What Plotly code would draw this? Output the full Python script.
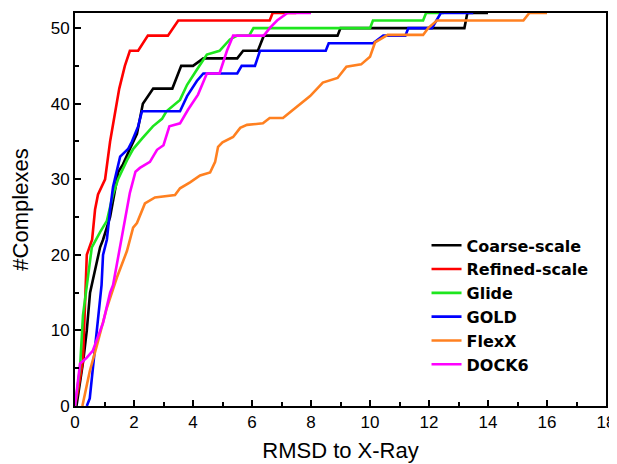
import plotly.graph_objects as go

# Coarse-scale
coarse_x = [0, 0.05, 0.28, 0.4, 0.51, 0.68, 0.85, 0.95, 1.19, 1.47, 1.63, 1.86, 2.1, 2.3, 2.65, 3.3, 3.6, 4.0, 4.35, 5.5, 5.7, 6.2, 6.4, 8.9, 9.0, 13.2, 13.3, 14.0]
coarse_y = [0, 0, 6, 10, 15, 18, 21, 22, 25, 31, 32, 34, 36, 40, 42, 42, 45, 45, 46, 46, 47, 47, 49, 49, 50, 50, 52, 52]
# Refined-scale
refined_x = [0, 0.1, 0.27, 0.4, 0.58, 0.68, 0.78, 1.02, 1.19, 1.36, 1.5, 1.69, 1.86, 2.14, 2.47, 3.15, 3.5, 6.6, 6.7, 7.5]
refined_y = [0, 2, 6, 20, 22, 26, 28, 30, 35, 39, 42, 45, 47, 47, 49, 49, 51, 51, 52, 52]
# Glide
glide_x = [0, 0.17, 0.27, 0.4, 0.57, 0.85, 1.08, 1.29, 1.46, 1.76, 1.97, 2.3, 2.64, 2.95, 3.1, 3.56, 3.8, 4.13, 4.47, 4.9, 5.25, 5.5, 5.9, 6.05, 10.0, 10.1, 11.8, 11.9, 12.5]
glide_y = [0, 5, 12, 16, 21, 23, 24.5, 28, 30, 32.5, 34, 35.5, 37, 38, 39, 40.5, 42.5, 44.5, 46.5, 47, 48.5, 49, 49, 50, 50, 51, 51, 52, 52]
# GOLD
gold_x = [0.4, 0.5, 0.62, 0.78, 0.9, 0.95, 1.08, 1.19, 1.29, 1.53, 1.8, 1.93, 2.14, 2.27, 2.54, 3.56, 3.8, 4.13, 4.35, 5.5, 5.65, 6.1, 6.27, 8.5, 8.6, 10.1, 10.45, 11.2, 11.3, 12.1, 12.4, 13.5]
gold_y = [0, 1, 5.5, 12, 16, 20, 22, 26, 29, 33, 34, 35, 37, 39, 39, 39, 41, 43, 44, 44, 45, 45, 47, 47, 48, 48, 49, 49, 50, 50, 52, 52]
# FlexX
flexx_x = [0.25, 0.5, 0.74, 1.08, 1.42, 1.76, 1.97, 2.1, 2.37, 2.71, 3.39, 3.56, 3.9, 4.24, 4.58, 4.75, 4.85, 5.0, 5.36, 5.6, 5.83, 6.37, 6.6, 7.05, 7.3, 7.6, 7.97, 8.4, 8.9, 9.2, 9.7, 10.0, 10.17, 10.6, 11.8, 11.97, 12.27, 15.2, 15.4, 16.0]
flexx_y = [0, 4.6, 8, 13, 17, 20.5, 23.6, 24.2, 26.8, 27.6, 27.9, 28.8, 29.6, 30.5, 30.9, 32.3, 34.3, 34.9, 35.6, 36.8, 37.2, 37.4, 38.1, 38.1, 38.9, 39.8, 41, 42.8, 43.4, 44.9, 45.2, 46.2, 48.1, 49.1, 49.1, 50, 51, 51, 52, 52]
# DOCK6
dock6_x = [0, 0.17, 0.4, 0.6, 0.95, 1.19, 1.29, 1.46, 1.63, 1.86, 2.05, 2.2, 2.54, 2.78, 3.0, 3.2, 3.56, 3.83, 4.17, 4.47, 4.9, 5.15, 5.36, 6.4, 6.6, 6.85, 7.2, 8.0]
dock6_y = [0, 5.6, 6.4, 7.3, 11, 15, 16, 19.7, 23.6, 28.2, 31, 31.5, 32.3, 33.9, 34.5, 37, 37.4, 39.2, 41.2, 44, 44, 47, 49, 49, 50, 51, 52, 52]

series = [
    ("Coarse-scale", coarse_x, coarse_y, "#000000"),
    ("Refined-scale", refined_x, refined_y, "#ff0000"),
    ("Glide", glide_x, glide_y, "#1ee61e"),
    ("GOLD", gold_x, gold_y, "#0000ff"),
    ("FlexX", flexx_x, flexx_y, "#ff8020"),
    ("DOCK6", dock6_x, dock6_y, "#ff00ff"),
]

x_ticks = [0, 2, 4, 6, 8, 10, 12, 14, 16, 18]
y_ticks = [0, 10, 20, 30, 40, 50]

fig = go.Figure()
for name, xs, ys, col in series:
    fig.add_trace(go.Scatter(x=xs, y=ys, mode="lines", name=name,
                             line=dict(color=col, width=2.6)))

font_family = "Liberation Sans, Arial, sans-serif"
axis_common = dict(
    showline=True, linecolor="black", linewidth=2, mirror=True,
    ticks="inside", ticklen=6, tickwidth=2, tickcolor="black",
    showgrid=False, zeroline=False, automargin=False,
    tickfont=dict(family=font_family, size=17, color="black"),
)
fig.update_xaxes(range=[0, 18], tickvals=x_ticks,
                 minor=dict(ticks="inside", ticklen=4, tickwidth=2, tickcolor="black", dtick=1),
                 title=dict(text="RMSD to X-Ray", font=dict(family=font_family, size=22, color="black"), standoff=11),
                 **axis_common)
fig.update_yaxes(range=[0, 52], tickvals=y_ticks,
                 minor=dict(ticks="inside", ticklen=4, tickwidth=2, tickcolor="black", dtick=5),
                 title=dict(text="#Complexes", font=dict(family=font_family, size=22, color="black"), standoff=28),
                 **axis_common)

# the page adds an 8 px body margin, so the figure is offset by 8 px
fig.update_layout(
    width=609, height=456,
    margin=dict(l=67, r=11, t=5, b=58),
    plot_bgcolor="white", paper_bgcolor="white",
    legend=dict(x=0.662, y=0.452, xanchor="left", yanchor="top",
                font=dict(family="DejaVu Sans", size=16, color="black", weight="bold"),
                bgcolor="rgba(0,0,0,0)", tracegroupgap=0, itemwidth=30),
)

fig.write_html("out.html")
